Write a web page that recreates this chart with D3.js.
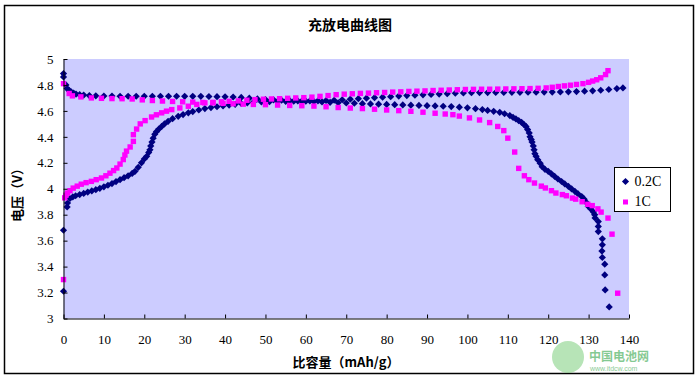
<!DOCTYPE html>
<html lang="zh">
<head>
<meta charset="UTF-8">
<title>充放电曲线图</title>
<script src="https://d3js.org/d3.v7.min.js"></script>
<style>
  body { margin: 0; background: #fff; }
  svg { display: block; }
  .tick text { font-family: "Liberation Serif", serif; font-size: 13px; fill: #000; }
  .cjk { font-family: "Noto Sans CJK SC", sans-serif; font-weight: bold; fill: #000; }
</style>
</head>
<body>
<svg id="chart" width="698" height="379"></svg>
<script>
// capacity (mAh/g), voltage (V)
const charge02 = [[0,3.21],[0,3.68],[0.9,3.86],[1.0,3.89],[1.6,3.925],[2.3,3.937],[3,3.946],[4,3.955],[5,3.964],[6,3.974],[7,3.983],[8,3.993],[9,4.003],[10,4.015],[11,4.027],[12,4.04],[13,4.055],[14,4.07],[15,4.085],[16,4.10],[17,4.118],[17.7,4.134],[18.5,4.165],[19.3,4.20],[20,4.23],[20.6,4.25],[21.1,4.28],[21.4,4.30],[21.6,4.33],[21.9,4.36],[22.2,4.39],[22.6,4.42],[23,4.44],[23.6,4.46],[24.3,4.48],[25,4.50],[25.9,4.52],[27,4.54],[28.4,4.558],[29.6,4.572],[30.9,4.585],[32,4.595],[33.5,4.607],[35,4.618],[36.5,4.626],[38,4.632],[39.5,4.638],[41,4.645],[42.5,4.651],[44,4.657],[45.5,4.662],[47,4.666],[49,4.669],[51,4.671],[53,4.673],[55,4.674],[57,4.675],[59,4.676],[61,4.677],[63,4.678],[65,4.68],[67,4.682],[69,4.686],[71,4.69],[73,4.694],[75,4.698],[77,4.702],[79,4.706],[81,4.71],[83,4.714],[85,4.718],[87,4.721],[89,4.724],[91,4.727],[93,4.73],[95,4.733],[97,4.736],[99,4.738],[101,4.74],[103,4.741],[105,4.741],[107,4.742],[109,4.742],[111,4.743],[113,4.743],[115,4.744],[117,4.744],[119,4.745],[121,4.745],[123,4.746],[125,4.747],[127,4.749],[129,4.752],[131,4.755],[133,4.759],[135,4.765],[137,4.772],[138.5,4.777]];

const discharge02 = [[0,4.888],[0,4.862],[0.6,4.80],[0.9,4.772],[1.4,4.758],[1.9,4.747],[2.5,4.737],[3.1,4.73],[4,4.725],[5,4.722],[6.4,4.718],[8,4.716],[10,4.715],[12,4.714],[14,4.713],[16,4.713],[18,4.713],[20,4.713],[22,4.713],[24,4.713],[26,4.713],[28,4.713],[30,4.712],[32,4.712],[34,4.712],[36,4.711],[38,4.71],[40,4.709],[42,4.707],[44,4.704],[46,4.698],[48,4.692],[50,4.688],[52,4.685],[54,4.682],[56,4.679],[58,4.677],[60,4.675],[62,4.672],[64,4.669],[66,4.666],[68,4.663],[70,4.661],[72,4.659],[74,4.656],[76,4.654],[78,4.652],[80,4.65],[82,4.648],[84,4.646],[86,4.644],[88,4.642],[90,4.64],[92,4.638],[94,4.636],[96,4.633],[98,4.629],[100,4.624],[102,4.617],[103.7,4.61],[105,4.604],[106.5,4.597],[108,4.589],[109.2,4.578],[110.5,4.564],[111.3,4.55],[112,4.538],[112.7,4.525],[113.4,4.512],[114,4.495],[114.5,4.48],[114.9,4.456],[115.3,4.43],[115.5,4.40],[115.8,4.38],[116,4.36],[116.3,4.33],[116.5,4.30],[116.7,4.27],[117,4.25],[117.4,4.224],[118,4.197],[118.5,4.17],[119.2,4.15],[120,4.134],[120.8,4.115],[121.6,4.095],[122.4,4.075],[123.3,4.056],[124.1,4.037],[125,4.018],[125.8,3.999],[126.6,3.98],[127.4,3.96],[128.3,3.94],[128.9,3.92],[129.4,3.895],[129.9,3.865],[130.5,3.845],[131.2,3.82],[131.5,3.80],[131.6,3.775],[132.4,3.747],[132.4,3.71],[132.4,3.67],[133.4,3.614],[133.4,3.568],[133.3,3.52],[133.4,3.47],[134,3.419],[134,3.336],[134.1,3.22],[135.1,3.089]];

const charge1 = [[0,3.30],[0.3,3.93],[0.6,3.95],[1,3.967],[1.6,3.985],[2.4,4.005],[3.4,4.02],[4.4,4.035],[5.6,4.047],[6.9,4.057],[8.1,4.07],[9.4,4.083],[10.5,4.10],[11.5,4.12],[12.4,4.14],[13.2,4.16],[14.0,4.19],[14.8,4.225],[15.2,4.26],[15.6,4.29],[16.5,4.322],[17.3,4.365],[17.3,4.417],[18.1,4.46],[19.0,4.50],[20.2,4.525],[21.8,4.553],[23,4.57],[24.3,4.585],[25.5,4.598],[26.8,4.61],[28.8,4.623],[30.9,4.636],[33,4.65],[35,4.662],[37,4.666],[39.1,4.67],[41,4.674],[43.3,4.677],[45.4,4.682],[47.4,4.687],[49.5,4.69],[51.5,4.692],[53.5,4.694],[55.5,4.697],[57.5,4.70],[59.5,4.702],[61.5,4.706],[63.5,4.712],[65.5,4.718],[67.5,4.725],[69.5,4.729],[71.5,4.732],[73.5,4.735],[75.5,4.737],[77.5,4.74],[79.5,4.742],[81.5,4.745],[83.5,4.747],[85.5,4.75],[87.5,4.752],[89.5,4.754],[91.5,4.757],[93.5,4.759],[95.5,4.761],[97.5,4.763],[99.5,4.765],[101.5,4.766],[103.5,4.767],[105.5,4.767],[107.5,4.768],[109.5,4.769],[111.5,4.77],[113.5,4.771],[115.5,4.772],[117.5,4.774],[119.5,4.777],[121,4.782],[122.5,4.788],[124,4.793],[125.5,4.798],[127,4.804],[128.6,4.81],[130,4.82],[131,4.83],[132,4.84],[133,4.855],[134.2,4.88],[134.8,4.91]];

const discharge1 = [[0,4.81],[1.4,4.734],[2.2,4.716],[4.3,4.708],[6.9,4.70],[9.4,4.697],[12,4.695],[14.5,4.694],[17,4.692],[19.5,4.685],[22,4.68],[24.5,4.676],[27,4.673],[29.5,4.67],[32,4.668],[34.5,4.665],[37,4.662],[39.5,4.658],[42,4.655],[44.5,4.652],[47,4.65],[50,4.648],[53,4.645],[56,4.642],[59,4.64],[62,4.637],[65,4.632],[68,4.626],[71,4.622],[74,4.618],[77,4.613],[80,4.607],[83,4.602],[86,4.597],[89,4.59],[92,4.582],[94.5,4.576],[96.4,4.571],[98,4.56],[100.5,4.546],[103,4.53],[105.5,4.51],[107.5,4.48],[109,4.448],[110,4.39],[111.7,4.283],[112.7,4.157],[114.1,4.10],[115.2,4.07],[116.6,4.044],[118.3,4.02],[119.3,4.006],[120.8,3.985],[121.9,3.967],[123.5,3.955],[124.5,3.946],[126,3.928],[126.8,3.92],[128.4,3.90],[129.8,3.88],[130.9,3.87],[132.3,3.845],[133.1,3.82],[134.8,3.774],[135.8,3.65],[137.2,3.195]];

const xTicks = [0,10,20,30,40,50,60,70,80,90,100,110,120,130,140];
const yTicks = [3,3.2,3.4,3.6,3.8,4,4.2,4.4,4.6,4.8,5];
const seriesNames = ["0.2C", "1C"];
const navy = "#000080", pink = "#FF00FF";

const svg = d3.select("#chart");

// outer frame
svg.append("rect").attr("x", 4.5).attr("y", 5.5).attr("width", 689).attr("height", 368)
  .attr("fill", "#fff").attr("stroke", "#000").attr("stroke-width", 1.5);

const x = d3.scaleLinear().domain([0, 140]).range([63.5, 629]);
const y = d3.scaleLinear().domain([3, 5]).range([318.5, 59]);

svg.append("rect").attr("x", x(0)).attr("y", y(5)).attr("width", x(140) - x(0)).attr("height", y(3) - y(5))
  .attr("fill", "#CCCCFF");

const diamond = "M0,-3.6L3.6,0L0,3.6L-3.6,0Z";

function drawDiamonds(data) {
  svg.append("g").selectAll("path").data(data).join("path")
    .attr("d", diamond)
    .attr("transform", d => `translate(${x(d[0])},${y(d[1])})`)
    .attr("fill", navy);
}
function drawSquares(data) {
  svg.append("g").selectAll("rect").data(data).join("rect")
    .attr("x", d => x(d[0]) - 2.7).attr("y", d => y(d[1]) - 2.7)
    .attr("width", 5.4).attr("height", 5.4)
    .attr("fill", pink);
}
drawDiamonds(charge02);
drawDiamonds(discharge02);
drawSquares(charge1);
drawSquares(discharge1);

// watermark (behind the tick labels)
const wm = svg.append("g").attr("opacity", 0.55);
wm.append("circle").attr("cx", 568).attr("cy", 357).attr("r", 16).attr("fill", "#7dcf7d");
wm.append("text").attr("x", 589).attr("y", 361).style("font-family", "'Noto Sans CJK SC', sans-serif")
  .style("font-weight", "bold").style("font-size", "12px").attr("fill", "#1fa03a").text("中国电池网");
wm.append("text").attr("x", 590).attr("y", 371).style("font-family", "'Liberation Sans', sans-serif")
  .style("font-size", "7px").attr("fill", "#1fa03a").text("www.itdcw.com");

// axes
const xAxis = d3.axisBottom(x).tickValues(xTicks).tickSizeInner(-4).tickSizeOuter(0).tickPadding(16);
const yAxis = d3.axisLeft(y).tickValues(yTicks).tickSizeInner(-4).tickSizeOuter(0).tickPadding(10)
  .tickFormat(d3.format("~g"));

svg.append("g").attr("transform", `translate(0,${y(3)})`).call(xAxis)
  .call(g => g.select(".domain").attr("stroke", "#000"));
svg.append("g").attr("transform", `translate(${x(0)},0)`).call(yAxis)
  .call(g => g.select(".domain").attr("stroke", "#000"));

// titles
svg.append("text").attr("class", "cjk").attr("x", 350).attr("y", 30)
  .attr("text-anchor", "middle").style("font-size", "14px").text("充放电曲线图");
svg.append("text").attr("class", "cjk").attr("x", 346).attr("y", 367)
  .attr("text-anchor", "middle").style("font-size", "13px").text("比容量（mAh/g）");
svg.append("text").attr("class", "cjk").attr("transform", "translate(22,192) rotate(-90)")
  .attr("text-anchor", "middle").style("font-size", "13px").text("电压（V）");

// legend
const lg = svg.append("g").attr("transform", "translate(614.5,167.5)");
lg.append("rect").attr("width", 56).attr("height", 44).attr("fill", "#fff").attr("stroke", "#000");
lg.append("path").attr("d", diamond).attr("transform", "translate(11,14)").attr("fill", navy);
lg.append("rect").attr("x", 8.5).attr("y", 32).attr("width", 5).attr("height", 5).attr("fill", pink);
lg.selectAll("text.lab").data(seriesNames).join("text")
  .attr("x", 20).attr("y", (d, i) => 18.5 + i * 20)
  .style("font-family", "'Liberation Serif', serif").style("font-size", "14px")
  .text(d => d);
</script>
</body>
</html>
